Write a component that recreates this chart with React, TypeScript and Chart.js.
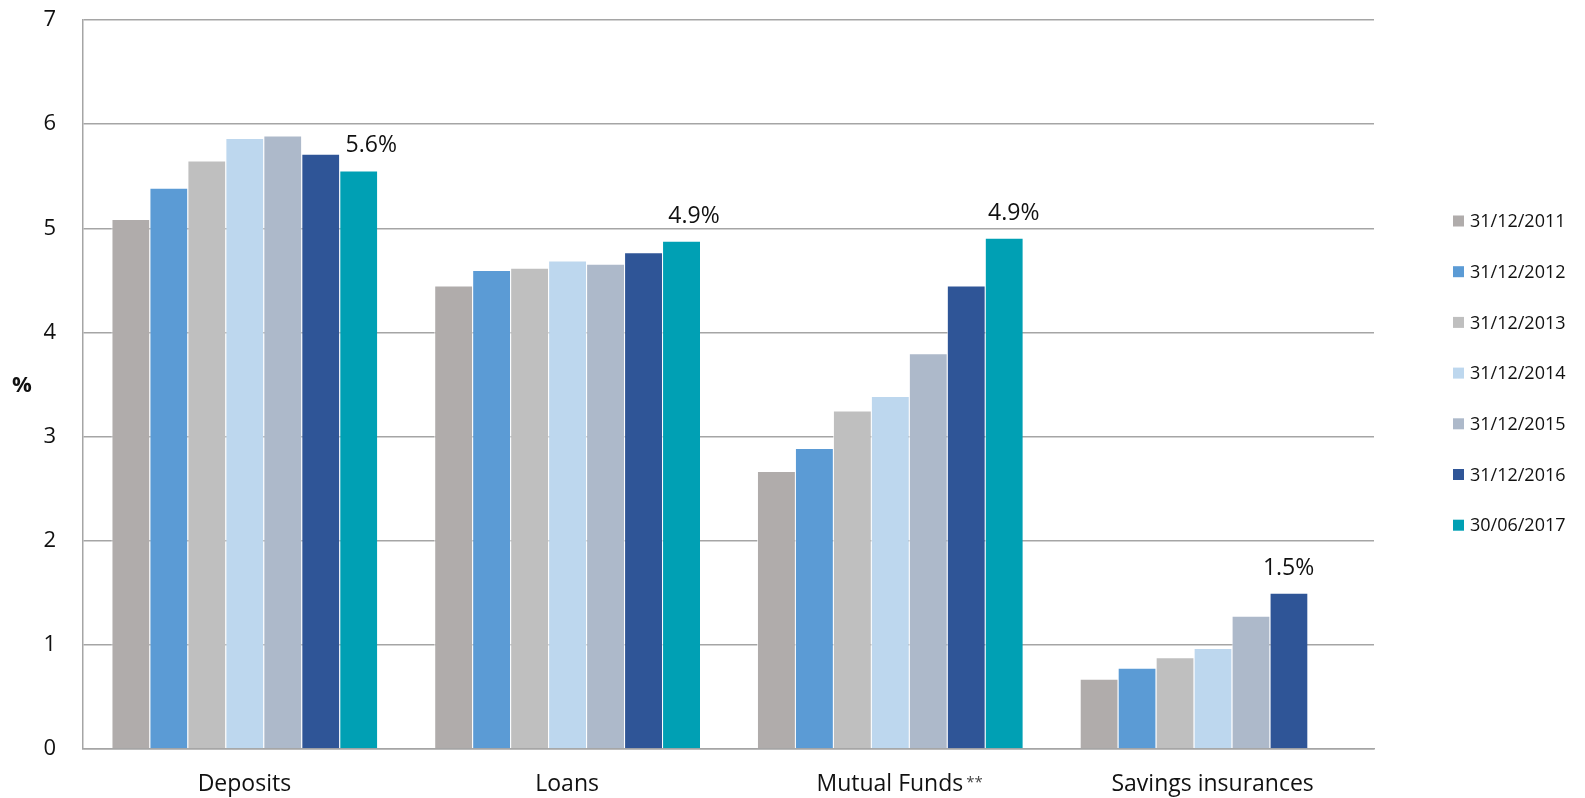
import { useEffect, useRef } from "react";
import { Chart, registerables } from "chart.js";

Chart.register(...registerables);

const categories = ["Deposits", "Loans", "Mutual Funds", "Savings insurances"];
const categoryMarks = ["", "", "**", ""];
const seriesLabels = [
  "31/12/2011",
  "31/12/2012",
  "31/12/2013",
  "31/12/2014",
  "31/12/2015",
  "31/12/2016",
  "30/06/2017",
];
const s2011 = [5.09, 4.45, 2.67, 0.675];
const s2012 = [5.39, 4.6, 2.89, 0.78];
const s2013 = [5.65, 4.62, 3.25, 0.88];
const s2014 = [5.866, 4.69, 3.39, 0.97];
const s2015 = [5.89, 4.66, 3.8, 1.28];
const s2016 = [5.716, 4.77, 4.45, 1.5];
const s2017 = [5.556, 4.88, 4.91, null];
const seriesColors = ["#b0acab", "#5b9bd5", "#bfbfbf", "#bdd7ee", "#adb9ca", "#2f5597", "#00a0b4"];
const yMin = 0;
const yMax = 7;
const yStep = 1;

const FONT = "'Open Sans', 'Noto Sans', sans-serif";
const TEXT = "#111111";
const GRID = "#a5a5a5";

const labelPlugin = {
  id: "endLabels",
  afterDatasetsDraw(chart: any, _a: any, opts: any) {
    const ctx = chart.ctx;
    const shifts: number[] = opts.shifts || [];
    ctx.save();
    ctx.font = `23px ${FONT}`;
    ctx.fillStyle = TEXT;
    ctx.textAlign = "center";
    ctx.textBaseline = "alphabetic";
    categories.forEach((_c, i) => {
      for (let d = chart.data.datasets.length - 1; d >= 0; d--) {
        const v = chart.data.datasets[d].data[i];
        if (v !== null && v !== undefined) {
          const bar = chart.getDatasetMeta(d).data[i];
          ctx.fillText(`${Number(v).toFixed(1)}%`, bar.x + (shifts[i] || 0), bar.y - 18);
          break;
        }
      }
    });
    ctx.restore();
  },
};

const extrasPlugin = {
  id: "extras",
  afterDraw(chart: any) {
    const ctx = chart.ctx;
    const area = chart.chartArea;
    const xs = chart.scales.x;
    ctx.save();
    // y axis title
    ctx.font = `bold 22px ${FONT}`;
    ctx.fillStyle = TEXT;
    ctx.textAlign = "center";
    ctx.textBaseline = "middle";
    ctx.fillText("%", 22, (area.top + area.bottom) / 2 + 1);
    // footnote marks after category labels
    ctx.font = `23px ${FONT}`;
    categories.forEach((c, i) => {
      if (!categoryMarks[i]) return;
      const w = ctx.measureText(c).width;
      const x = xs.getPixelForValue(i) + w / 2 + 3;
      ctx.save();
      ctx.font = `15px ${FONT}`;
      ctx.textAlign = "left";
      ctx.textBaseline = "middle";
      ctx.fillStyle = "#444444";
      ctx.fillText(categoryMarks[i], x, area.bottom + 34);
      ctx.restore();
    });
    // legend
    const lx = area.right + 79;
    const ly = area.top + 201;
    const step = 50.7;
    ctx.font = `18px ${FONT}`;
    ctx.textAlign = "left";
    ctx.textBaseline = "middle";
    chart.data.datasets.forEach((ds: any, i: number) => {
      const cy = ly + i * step;
      ctx.fillStyle = ds.backgroundColor;
      ctx.fillRect(lx, cy - 5.5, 11, 11);
      ctx.fillStyle = TEXT;
      ctx.fillText(ds.label, lx + 17, cy + 1);
    });
    ctx.restore();
  },
};

export default function App() {
  const ref = useRef<HTMLCanvasElement | null>(null);

  useEffect(() => {
    document.body.style.margin = "0";
    const canvas = ref.current;
    if (!canvas) return;
    const seriesValues = [s2011, s2012, s2013, s2014, s2015, s2016, s2017];
    const chart = new Chart(canvas, {
      type: "bar",
      data: {
        labels: categories,
        datasets: seriesValues.map((vals, i) => ({
          label: seriesLabels[i],
          data: vals,
          backgroundColor: seriesColors[i],
          borderColor: "rgba(255,255,255,0.7)",
          borderWidth: { left: 1, right: 0, top: 1, bottom: 0 },
          borderSkipped: "bottom",
          categoryPercentage: 0.8236,
          barPercentage: 1,
        })),
      },
      plugins: [labelPlugin, extrasPlugin],
      options: {
        responsive: false,
        animation: false,
        devicePixelRatio: 1,
        layout: { padding: { left: 0, right: 211, top: 20, bottom: 0 } },
        plugins: {
          legend: { display: false },
          tooltip: { enabled: false },
          title: { display: false },
          endLabels: { shifts: [13, 13, 10, 0] },
        } as any,
        scales: {
          x: {
            grid: { display: false, drawTicks: false },
            border: { display: true, color: GRID, width: 1.5 },
            ticks: {
              font: { family: FONT, size: 23 },
              color: TEXT,
              padding: 22,
              maxRotation: 0,
              autoSkip: false,
            },
            afterFit: (s: any) => {
              s.height = 49;
              s.paddingLeft = 0;
              s.paddingRight = 0;
            },
          },
          y: {
            min: yMin,
            max: yMax,
            grid: { color: GRID, lineWidth: 1.5, drawTicks: false },
            border: { display: true, color: GRID, width: 1.5 },
            ticks: {
              stepSize: yStep,
              font: { family: FONT, size: 22 },
              color: TEXT,
              padding: 27,
            },
            afterFit: (s: any) => {
              s.width = 83;
              s.paddingTop = 0;
              s.paddingBottom = 0;
            },
          },
        },
      },
    });
    return () => chart.destroy();
  }, []);

  return (
    <div style={{ width: 1585, height: 798, background: "#ffffff" }}>
      <canvas ref={ref} width={1585} height={798} style={{ display: "block", width: 1585, height: 798 }} />
    </div>
  );
}
